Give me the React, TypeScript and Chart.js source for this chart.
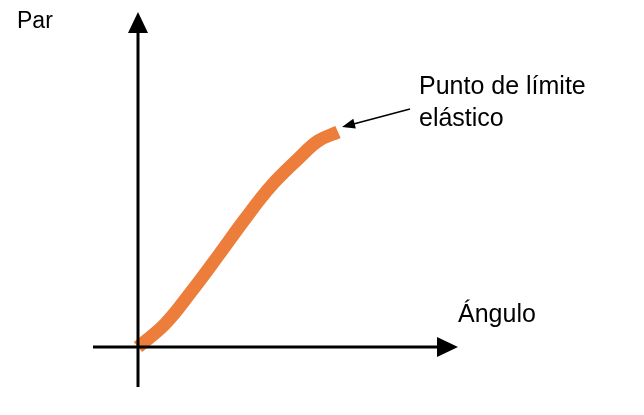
import { useEffect, useRef } from 'react';
import { Chart, registerables } from 'chart.js';

Chart.register(...registerables);

// curve (angle vs torque), in drawing units measured from the origin
const angle = [0, 27, 53, 80, 107, 133, 160, 180, 200];
const torque = [0, 23, 55, 91, 128, 161, 188, 206, 215];

// axis extents
const xAxisLine = [-45, 300];
const yAxisLine = [-40, 315];

const labelTorque = 'Par';
const labelAngle = 'Ángulo';
const labelYield = ['Punto de límite', 'elástico'];

const FONT = '"Liberation Sans", Arial, sans-serif';

const overlayPlugin = {
  id: 'overlay',
  afterDatasetsDraw(chart: Chart) {
    const { ctx, scales } = chart;
    const px = (v: number) => scales.x.getPixelForValue(v);
    const py = (v: number) => scales.y.getPixelForValue(v);
    ctx.save();
    ctx.fillStyle = '#000';
    ctx.strokeStyle = '#000';

    // y axis arrowhead
    ctx.beginPath();
    ctx.moveTo(px(0), py(335));
    ctx.lineTo(px(-10), py(314));
    ctx.lineTo(px(10), py(314));
    ctx.closePath();
    ctx.fill();

    // x axis arrowhead
    ctx.beginPath();
    ctx.moveTo(px(320), py(0));
    ctx.lineTo(px(299), py(10));
    ctx.lineTo(px(299), py(-10));
    ctx.closePath();
    ctx.fill();

    // pointer to the yield point
    const sx = px(272), sy = py(238);
    const tx = px(204), ty = py(220);
    const ang = Math.atan2(ty - sy, tx - sx);
    ctx.lineWidth = 1.5;
    ctx.beginPath();
    ctx.moveTo(sx, sy);
    ctx.lineTo(tx - 10 * Math.cos(ang), ty - 10 * Math.sin(ang));
    ctx.stroke();
    ctx.beginPath();
    ctx.moveTo(tx, ty);
    ctx.lineTo(tx - 13 * Math.cos(ang) + 5 * Math.sin(ang), ty - 13 * Math.sin(ang) - 5 * Math.cos(ang));
    ctx.lineTo(tx - 13 * Math.cos(ang) - 5 * Math.sin(ang), ty - 13 * Math.sin(ang) + 5 * Math.cos(ang));
    ctx.closePath();
    ctx.fill();

    // texts
    ctx.textBaseline = 'alphabetic';
    ctx.textAlign = 'left';
    ctx.font = `23px ${FONT}`;
    ctx.fillText(labelTorque, px(-121), py(319));
    ctx.font = `25px ${FONT}`;
    ctx.fillText(labelAngle, px(320), py(25));
    ctx.fillText(labelYield[0], px(281), py(253));
    ctx.fillText(labelYield[1], px(281), py(221));
    ctx.restore();
  },
};

export default function App() {
  const canvasRef = useRef<HTMLCanvasElement>(null);
  const chartInstance = useRef<Chart | null>(null);

  useEffect(() => {
    if (!canvasRef.current) return;
    if (chartInstance.current) chartInstance.current.destroy();

    chartInstance.current = new Chart(canvasRef.current, {
      type: 'line',
      data: {
        datasets: [
          {
            label: 'axis-x',
            data: xAxisLine.map((x) => ({ x, y: 0 })),
            borderColor: '#000',
            borderWidth: 3,
            pointRadius: 0,
          },
          {
            label: 'axis-y',
            data: yAxisLine.map((y) => ({ x: 0, y })),
            borderColor: '#000',
            borderWidth: 3,
            pointRadius: 0,
          },
          {
            label: 'Par',
            data: angle.map((x, i) => ({ x, y: torque[i] })),
            borderColor: '#ec7d3b',
            borderWidth: 13,
            borderCapStyle: 'butt',
            pointRadius: 0,
            tension: 0.4,
          },
        ],
      },
      options: {
        animation: false,
        responsive: true,
        maintainAspectRatio: false,
        layout: { padding: 0 },
        scales: {
          x: { type: 'linear', min: -138, max: 506, display: false },
          y: { type: 'linear', min: -68, max: 347, display: false },
        },
        plugins: {
          legend: { display: false },
          tooltip: { enabled: false },
        },
      },
      plugins: [overlayPlugin],
    });

    return () => {
      chartInstance.current?.destroy();
      chartInstance.current = null;
    };
  }, []);

  return (
    <div style={{ position: 'absolute', left: 0, top: 0, width: 644, height: 415, background: '#fff' }}>
      <canvas ref={canvasRef} />
    </div>
  );
}
